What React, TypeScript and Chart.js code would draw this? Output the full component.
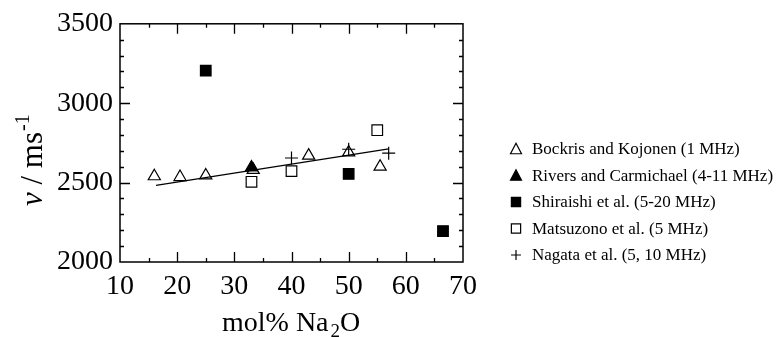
import React, { useEffect, useRef } from "react";
import { Chart, registerables } from "chart.js";

Chart.register(...registerables);

const FONT = "'Liberation Serif', 'Times New Roman', serif";

const bockrisX = [16, 20.5, 25, 33.3, 43, 50, 55.5];
const bockrisY = [2540, 2535, 2545, 2580, 2670, 2690, 2600];
const riversX = [33];
const riversY = [2595];
const shiraishiX = [25, 50, 66.5];
const shiraishiY = [3205, 2555, 2195];
const matsuzonoX = [33, 40, 55];
const matsuzonoY = [2505, 2572, 2830];
const nagataX = [40, 50, 57];
const nagataY = [2655, 2710, 2685];
const fitX = [16.3, 57];
const fitY = [2482, 2712];

const legendLabels = [
  "Bockris and Kojonen (1 MHz)",
  "Rivers and Carmichael (4-11 MHz)",
  "Shiraishi et al. (5-20 MHz)",
  "Matsuzono et al. (5 MHz)",
  "Nagata et al. (5, 10 MHz)",
];
const legendStyles = ["openTri", "fillTri", "fillRect", "openRect", "plus"];

const xMin = 10, xMax = 70, xMajor = 10, xMinor = 5;
const yMin = 2000, yMax = 3500, yMajor = 500, yMinor = 100;

const pts = (xs: number[], ys: number[]) => xs.map((x, i) => ({ x, y: ys[i] }));

function drawSymbol(ctx: CanvasRenderingContext2D, style: string, cx: number, cy: number, s: number) {
  ctx.save();
  ctx.lineWidth = 1.2;
  ctx.strokeStyle = "#000";
  ctx.fillStyle = "#000";
  ctx.beginPath();
  if (style === "openTri" || style === "fillTri") {
    const h = s * 0.866;
    ctx.moveTo(cx, cy - h / 2 - 1);
    ctx.lineTo(cx + s / 2, cy + h / 2);
    ctx.lineTo(cx - s / 2, cy + h / 2);
    ctx.closePath();
    if (style === "fillTri") ctx.fill();
    ctx.stroke();
  } else if (style === "fillRect" || style === "openRect") {
    const r = s * 0.42;
    ctx.rect(cx - r, cy - r, 2 * r, 2 * r);
    if (style === "fillRect") ctx.fill();
    ctx.stroke();
  } else {
    const r = s * 0.45;
    ctx.moveTo(cx - r, cy);
    ctx.lineTo(cx + r, cy);
    ctx.moveTo(cx, cy - r);
    ctx.lineTo(cx, cy + r);
    ctx.stroke();
  }
  ctx.restore();
}

const framePlugin = {
  id: "frameTicks",
  afterDraw(chart: any) {
    const ctx: CanvasRenderingContext2D = chart.ctx;
    const { left, right, top, bottom } = chart.chartArea;
    const xs = chart.scales.x;
    const ys = chart.scales.y;
    ctx.save();
    ctx.strokeStyle = "#000";
    ctx.lineWidth = 1.5;
    ctx.strokeRect(left, top, right - left, bottom - top);
    ctx.lineWidth = 1.3;
    ctx.beginPath();
    for (let v = xMin + xMinor; v < xMax; v += xMinor) {
      const px = Math.round(xs.getPixelForValue(v)) + 0.5;
      const len = v % xMajor === 0 ? 10 : 4;
      ctx.moveTo(px, bottom);
      ctx.lineTo(px, bottom - len);
      ctx.moveTo(px, top);
      ctx.lineTo(px, top + len);
    }
    for (let v = yMin + yMinor; v < yMax; v += yMinor) {
      const py = Math.round(ys.getPixelForValue(v)) + 0.5;
      const len = v % yMajor === 0 ? 10 : 4;
      ctx.moveTo(left, py);
      ctx.lineTo(left + len, py);
      ctx.moveTo(right, py);
      ctx.lineTo(right - len, py);
    }
    ctx.stroke();

    // legend
    ctx.fillStyle = "#000";
    ctx.font = `17px ${FONT}`;
    ctx.textBaseline = "middle";
    ctx.textAlign = "left";
    const y0 = 149;
    const dy = 26.5;
    legendLabels.forEach((lab, i) => {
      const cy = y0 + i * dy;
      drawSymbol(ctx, legendStyles[i], 516, cy, 11);
      ctx.fillText(lab, 532, cy + 1);
    });

    // x title: mol% Na2O
    ctx.textBaseline = "alphabetic";
    const big = `28px ${FONT}`;
    const small = `19px ${FONT}`;
    let x = 222;
    const base = 331;
    ctx.font = big;
    ctx.fillText("mol% Na", x, base);
    x += ctx.measureText("mol% Na").width + 2;
    ctx.font = small;
    ctx.fillText("2", x, base + 6);
    x += ctx.measureText("2").width;
    ctx.font = big;
    ctx.fillText("O", x, base);

    // y title: v / ms-1
    ctx.save();
    ctx.translate(42, 206);
    ctx.rotate(-Math.PI / 2);
    let t = 0;
    ctx.font = `italic 31px ${FONT}`;
    ctx.fillText("\u03BD", t, 0);
    t += ctx.measureText("\u03BD").width;
    ctx.font = `31px ${FONT}`;
    ctx.fillText(" / ms", t, 0);
    t += ctx.measureText(" / ms").width + 1;
    ctx.font = `20px ${FONT}`;
    ctx.fillText("-1", t, -13);
    ctx.restore();

    ctx.restore();
  },
};

export default function App() {
  const ref = useRef<HTMLCanvasElement>(null);
  useEffect(() => {
    if (!ref.current) return;
    const common = { showLine: false, borderColor: "#000", borderWidth: 1.2 };
    const chart = new Chart(ref.current, {
      type: "scatter",
      data: {
        datasets: [
          {
            type: "line",
            label: "fit",
            data: pts(fitX, fitY),
            showLine: true,
            borderColor: "#000",
            borderWidth: 1.3,
            pointRadius: 0,
            fill: false,
          } as any,
          {
            ...common,
            label: legendLabels[0],
            data: pts(bockrisX, bockrisY),
            pointStyle: "triangle",
            pointRadius: 7,
            backgroundColor: "rgba(0,0,0,0)",
          },
          {
            ...common,
            label: legendLabels[1],
            data: pts(riversX, riversY),
            pointStyle: "triangle",
            pointRadius: 7,
            backgroundColor: "#000",
          },
          {
            ...common,
            label: legendLabels[2],
            data: pts(shiraishiX, shiraishiY),
            pointStyle: "rect",
            pointRadius: 7.5,
            backgroundColor: "#000",
          },
          {
            ...common,
            label: legendLabels[3],
            data: pts(matsuzonoX, matsuzonoY),
            pointStyle: "rect",
            pointRadius: 7.5,
            backgroundColor: "rgba(0,0,0,0)",
          },
          {
            ...common,
            label: legendLabels[4],
            data: pts(nagataX, nagataY),
            pointStyle: "cross",
            pointRadius: 6.5,
            backgroundColor: "rgba(0,0,0,0)",
          },
        ],
      },
      options: {
        animation: false,
        responsive: false,
        devicePixelRatio: 1,
        layout: { padding: { left: 0, right: 316, top: 22, bottom: 0 } },
        plugins: { legend: { display: false }, tooltip: { enabled: false } },
        scales: {
          x: {
            type: "linear",
            min: xMin,
            max: xMax,
            grid: { display: false, drawTicks: false },
            border: { display: false },
            ticks: {
              stepSize: xMajor,
              padding: 8,
              color: "#000",
              font: { family: FONT, size: 28 },
              maxRotation: 0,
              callback: (v: any) => String(v),
            },
            afterFit: (s: any) => {
              s.height = 75;
            },
          },
          y: {
            type: "linear",
            min: yMin,
            max: yMax,
            grid: { display: false, drawTicks: false },
            border: { display: false },
            ticks: {
              stepSize: yMajor,
              padding: 7,
              color: "#000",
              font: { family: FONT, size: 28 },
              callback: (v: any) => String(v),
            },
            afterFit: (s: any) => {
              s.width = 120;
            },
          },
        },
      },
      plugins: [framePlugin],
    });
    return () => chart.destroy();
  }, []);
  return (
    <canvas
      ref={ref}
      width={779}
      height={337}
      style={{ position: "absolute", left: 0, top: 0, width: 779, height: 337 }}
    />
  );
}
